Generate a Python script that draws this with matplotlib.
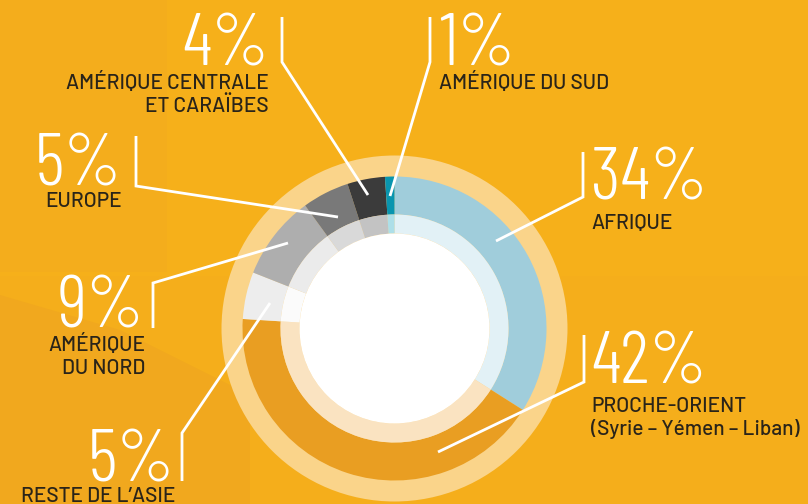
import matplotlib
matplotlib.use("Agg")
import matplotlib.pyplot as plt
from matplotlib.patches import Circle, Polygon, Rectangle

# data, clockwise from 12 o'clock
regions = ["AFRIQUE", "PROCHE-ORIENT", "RESTE DE L'ASIE", "AMÉRIQUE DU NORD",
           "EUROPE", "AMÉRIQUE CENTRALE ET CARAÏBES", "AMÉRIQUE DU SUD"]
shares = [34, 42, 5, 9, 5, 4, 1]
colors = ["#A0CDDB", "#E99E22", "#EDEDED", "#AEAEAE", "#797979", "#3B3B3B", "#0995AF"]
inner_colors = ["#E2F1F6", "#FAE3C1", "#FBFBFB", "#EBEBEB", "#D9D9D9", "#C3C3C3", "#ADDFE8"]

label_lines = {
    "AFRIQUE": ["AFRIQUE"],
    "PROCHE-ORIENT": ["PROCHE-ORIENT", "(Syrie – Yémen – Liban)"],
    "RESTE DE L'ASIE": ["RESTE DE L’ASIE"],
    "AMÉRIQUE DU NORD": ["AMÉRIQUE", "DU NORD"],
    "EUROPE": ["EUROPE"],
    "AMÉRIQUE CENTRALE ET CARAÏBES": ["AMÉRIQUE CENTRALE", "ET CARAÏBES"],
    "AMÉRIQUE DU SUD": ["AMÉRIQUE DU SUD"],
}

W, H = 808, 504
cx, cy = 394.5, 328.5
BG = "#F6B01A"

num_font = ["Barlow Condensed", "DejaVu Sans"]
lab_font = ["Barlow", "DejaVu Sans"]

fig = plt.figure(figsize=(W / 100, H / 100), dpi=100)
fig.patch.set_facecolor(BG)
ax = fig.add_axes([0, 0, 1, 1])
ax.set_facecolor(BG)

# subtle background facets
ax.add_patch(Rectangle((0, 0), 167, 272, color="#F4AD1C", lw=0, zorder=0))
ax.add_patch(Rectangle((0, 276), W, H - 276, color="#F5AE1B", lw=0, zorder=0))
ax.add_patch(Polygon([(0, 295), (120, 330), (250, 395), (250, H), (0, H)],
                     closed=True, color="#F1A81E", lw=0, zorder=0))

# pale outer ring
ax.add_patch(Circle((cx, cy), 173, color="#FAD48A", lw=0, zorder=1))

# main segments and lighter inner band
ax.pie(shares, colors=colors, startangle=-90, counterclock=True,
       radius=152, center=(cx, cy), frame=True,
       wedgeprops=dict(width=38, linewidth=0, zorder=2))
ax.pie(shares, colors=inner_colors, startangle=-90, counterclock=True,
       radius=114, center=(cx, cy), frame=True,
       wedgeprops=dict(width=19, linewidth=0, zorder=2))
ax.add_patch(Circle((cx, cy), 95, color="white", lw=0, zorder=3))

# label layout: (number x, number baseline, ha, label baseline, leader path)
layout = {
    "AFRIQUE": (591, 199, "left", 229, [(583, 152), (583, 197), (496, 241)]),
    "PROCHE-ORIENT": (591, 383, "left", 412, [(584, 335), (584, 382), (438, 452)]),
    "RESTE DE L'ASIE": (175, 481, "right", 502, [(182, 481), (182, 433), (270, 303)]),
    "AMÉRIQUE DU NORD": (145, 328, "right", 351, [(153, 328), (153, 283), (288, 243)]),
    "EUROPE": (122, 186, "right", 207, [(136, 136), (136, 186), (338, 217)]),
    "AMÉRIQUE CENTRALE ET CARAÏBES": (269, 65, "right", 89, [(282, 17), (282, 62), (368, 195)]),
    "AMÉRIQUE DU SUD": (439, 65, "left", 89, [(430, 17), (430, 62), (390, 196)]),
}

for name, share in zip(regions, shares):
    nx, nb, ha, lb, path = layout[name]
    xs, ys = zip(*path)
    ax.plot(xs, ys, color="white", lw=2.0, solid_capstyle="butt",
            solid_joinstyle="miter", zorder=5)
    ax.text(nx, nb, f"{share}%", ha=ha, va="baseline", color="white",
            fontsize=53, family=num_font, weight=300, zorder=6)
    for i, line in enumerate(label_lines[name]):
        ax.text(nx, lb + i * 23, line, ha=ha, va="baseline", color="#2A2419",
                fontsize=15, family=lab_font, weight=500, zorder=6)

ax.set_xlim(0, W)
ax.set_ylim(H, 0)
ax.set_aspect("equal")
ax.axis("off")

fig.savefig("out.png", dpi=100, facecolor=BG)
